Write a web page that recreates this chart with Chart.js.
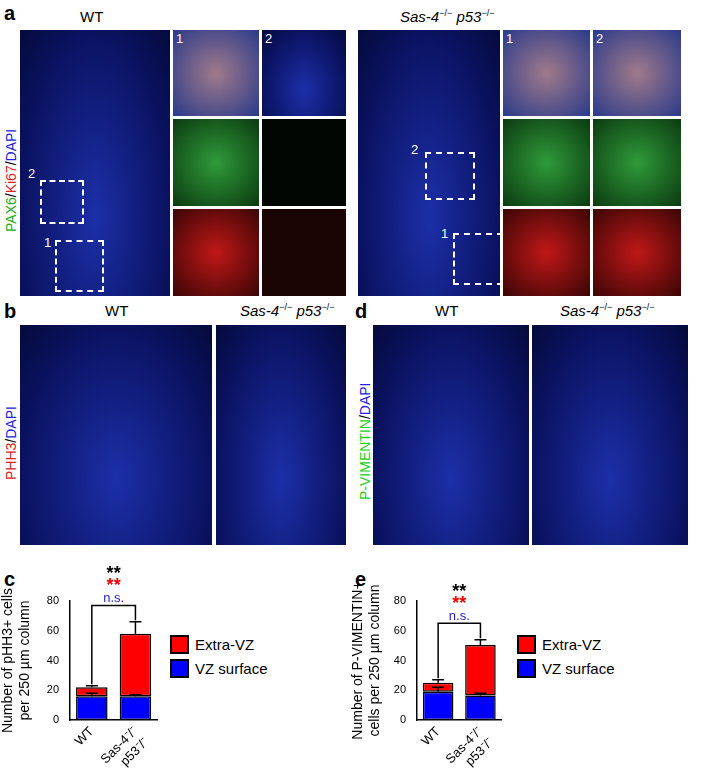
<!DOCTYPE html>
<html><head><meta charset="utf-8">
<script src="https://cdn.jsdelivr.net/npm/chart.js@4"></script>
<style>
body{margin:0;width:701px;height:782px;background:#fff;font-family:Arial,"Liberation Sans",sans-serif;position:relative;overflow:hidden}
.a{position:absolute}
.img{position:absolute;background:radial-gradient(ellipse at 50% 70%,#1c2fa8,#0a1260 70%,#050a3a)}
.g{background:radial-gradient(ellipse,#2f9a3a,#0b3a10)}
.r{background:radial-gradient(ellipse,#c01818,#3a0505)}
.m{background:radial-gradient(ellipse,#a07a8a,#2a3a8a)}
.lbl{position:absolute;font-weight:bold;font-size:20px}
.t{position:absolute;font-size:15px}
.v{position:absolute;font-size:14px;transform:rotate(-90deg);transform-origin:left top;white-space:nowrap}
.num{position:absolute;color:#fff;font-size:13px}
.lg{position:absolute;font-size:15px}
.lg span{display:inline-block;width:15px;height:15px;border:2px solid #000;vertical-align:-4px;margin-right:6px}
</style></head><body>
<div class="lbl" style="left:4px;top:2px">a</div>
<div class="t" style="left:80px;top:8px">WT</div>
<div class="t" style="left:400px;top:8px"><i>Sas-4</i><sup style="font-size:9px">−/−</sup> <i>p53</i><sup style="font-size:9px">−/−</sup></div>
<div class="v" style="left:3px;top:232px"><span style="color:#2a2">PAX6</span>/<span style="color:#d22">Ki67</span>/<span style="color:#22d">DAPI</span></div>
<div class="img" style="left:20px;top:30px;width:150px;height:266px"></div>
<div class="img m" style="left:173px;top:30px;width:86px;height:86px"></div>
<div class="img" style="left:262px;top:30px;width:84px;height:86px"></div>
<div class="img g" style="left:173px;top:119px;width:86px;height:87px"></div>
<div class="img" style="left:262px;top:119px;width:84px;height:87px;background:#020602"></div>
<div class="img r" style="left:173px;top:209px;width:86px;height:87px"></div>
<div class="img" style="left:262px;top:209px;width:84px;height:87px;background:#1a0303"></div>
<div class="img" style="left:358px;top:30px;width:142px;height:266px"></div>
<div class="img m" style="left:503px;top:30px;width:87px;height:86px"></div>
<div class="img m" style="left:593px;top:30px;width:88px;height:86px"></div>
<div class="img g" style="left:503px;top:119px;width:87px;height:87px"></div>
<div class="img g" style="left:593px;top:119px;width:88px;height:87px"></div>
<div class="img r" style="left:503px;top:209px;width:87px;height:87px"></div>
<div class="img r" style="left:593px;top:209px;width:88px;height:87px"></div>
<div class="a" style="left:40px;top:180px;width:40px;height:40px;border:2px dashed #fff"></div>
<div class="a" style="left:55px;top:240px;width:45px;height:48px;border:2px dashed #fff"></div>
<div class="a" style="left:425px;top:152px;width:46px;height:44px;border:2px dashed #fff"></div>
<div class="a" style="left:453px;top:233px;width:46px;height:48px;border:2px dashed #fff"></div>
<div class="num" style="left:28px;top:166px">2</div><div class="num" style="left:44px;top:235px">1</div>
<div class="num" style="left:176px;top:31px">1</div><div class="num" style="left:265px;top:31px">2</div>
<div class="num" style="left:411px;top:142px">2</div><div class="num" style="left:441px;top:226px">1</div>
<div class="num" style="left:506px;top:31px">1</div><div class="num" style="left:596px;top:31px">2</div>

<div class="lbl" style="left:4px;top:300px">b</div>
<div class="t" style="left:105px;top:302px">WT</div>
<div class="t" style="left:240px;top:302px"><i>Sas-4</i><sup style="font-size:9px">−/−</sup> <i>p53</i><sup style="font-size:9px">−/−</sup></div>
<div class="v" style="left:3px;top:480px"><span style="color:#d22">PHH3</span>/<span style="color:#22d">DAPI</span></div>
<div class="img" style="left:20px;top:325px;width:192px;height:220px"></div>
<div class="img" style="left:216px;top:325px;width:130px;height:220px"></div>
<div class="lbl" style="left:355px;top:300px">d</div>
<div class="t" style="left:435px;top:302px">WT</div>
<div class="t" style="left:560px;top:302px"><i>Sas-4</i><sup style="font-size:9px">−/−</sup> <i>p53</i><sup style="font-size:9px">−/−</sup></div>
<div class="v" style="left:357px;top:500px"><span style="color:#2c2">P-VIMENTIN</span>/<span style="color:#22d">DAPI</span></div>
<div class="img" style="left:373px;top:325px;width:156px;height:220px"></div>
<div class="img" style="left:532px;top:325px;width:156px;height:220px"></div>

<div class="lbl" style="left:4px;top:568px">c</div>
<div class="lbl" style="left:355px;top:568px">e</div>
<div class="a" style="left:0;top:558px;width:162px;height:224px"><canvas id="c1"></canvas></div>
<div class="a" style="left:350px;top:558px;width:157px;height:224px"><canvas id="c2"></canvas></div>
<div class="lg" style="left:170px;top:635px"><span style="background:#f00"></span>Extra-VZ</div>
<div class="lg" style="left:170px;top:659px"><span style="background:#00f"></span>VZ surface</div>
<div class="lg" style="left:517px;top:635px"><span style="background:#f00"></span>Extra-VZ</div>
<div class="lg" style="left:517px;top:659px"><span style="background:#00f"></span>VZ surface</div>
<script>
const categories=[["WT"],["Sas-4⁻/⁻","p53⁻/⁻"]];
const yTicks=[0,20,40,60,80];
const pVZ=[16,16], pVZerr=[2,1], pExtra=[6,42], pTotErr=[1,8];
const vVZ=[19,16.5], vVZerr=[3,1.5], vExtra=[6,34], vTotErr=[2,3.5];

const errPlugin={id:'err',afterDatasetsDraw(ch){
  const o=ch.options.plugins.err, y=ch.scales.y, c=ch.ctx;
  c.save(); c.strokeStyle='#000'; c.lineWidth=1.5;
  const m0=ch.getDatasetMeta(0);
  [0,1].forEach(i=>{
    const px=m0.data[i].x;
    [[o.vz[i],o.vzErr[i]],[o.vz[i]+o.ex[i],o.totErr[i]]].forEach(([v,e])=>{
      c.beginPath();c.moveTo(px,y.getPixelForValue(v));c.lineTo(px,y.getPixelForValue(v+e));
      c.moveTo(px-6,y.getPixelForValue(v+e));c.lineTo(px+6,y.getPixelForValue(v+e));c.stroke();});
  });
  const by=y.getPixelForValue(o.br), x0=m0.data[0].x, x1=m0.data[1].x;
  c.beginPath();c.moveTo(x0,y.getPixelForValue(o.vz[0]+o.ex[0]+o.totErr[0]+1));c.lineTo(x0,by);c.lineTo(x1,by);
  c.lineTo(x1,y.getPixelForValue(o.vz[1]+o.ex[1]+o.totErr[1]+1));c.stroke();
  const mx=(x0+x1)/2; c.textAlign='center';
  c.font='bold 18px Arial';c.fillStyle='#000';c.fillText('**',mx,by-26);
  c.fillStyle='#e00';c.fillText('**',mx,by-14);
  c.font='13px Arial';c.fillStyle='#22c';c.fillText('n.s.',mx,by-3);
  c.restore();}};

function make(id,vz,ex,vzErr,totErr,title,br,yw){
  new Chart(document.getElementById(id),{type:'bar',plugins:[errPlugin],
  data:{labels:categories,datasets:[
    {data:vz,backgroundColor:'#00f',borderColor:'#000',borderWidth:1.5,borderSkipped:false},
    {data:ex,backgroundColor:'#f00',borderColor:'#000',borderWidth:1.5,borderSkipped:false}]},
  options:{responsive:true,maintainAspectRatio:false,animation:false,
    layout:{padding:{top:43,right:2}},
    datasets:{bar:{categoryPercentage:0.85,barPercentage:0.85}},
    plugins:{legend:{display:false},tooltip:{enabled:false},
      err:{vz,ex,vzErr,totErr,br}},
    scales:{
      x:{stacked:true,grid:{display:false,drawTicks:false},border:{color:'#000',width:1.5},
        ticks:{color:'#000',font:{size:13},minRotation:45,maxRotation:45,padding:4,autoSkip:false},
        afterFit(s){s.height=62;}},
      y:{stacked:true,min:0,max:80,afterBuildTicks(s){s.ticks=yTicks.map(v=>({value:v}));},
        grid:{display:false},border:{color:'#000',width:1.5},
        ticks:{color:'#000',font:{size:11}},
        afterFit(s){s.width=yw;},
        title:{display:true,text:title,color:'#000',font:{size:14},padding:0}}}}});
}
make('c1',pVZ,pExtra,pVZerr,pTotErr,["Number of pHH3+ cells","per 250 µm column"],77,70);
make('c2',vVZ,vExtra,vVZerr,vTotErr,["Number of P-VIMENTIN+","cells per 250 µm column"],65,67);
</script></body></html>
